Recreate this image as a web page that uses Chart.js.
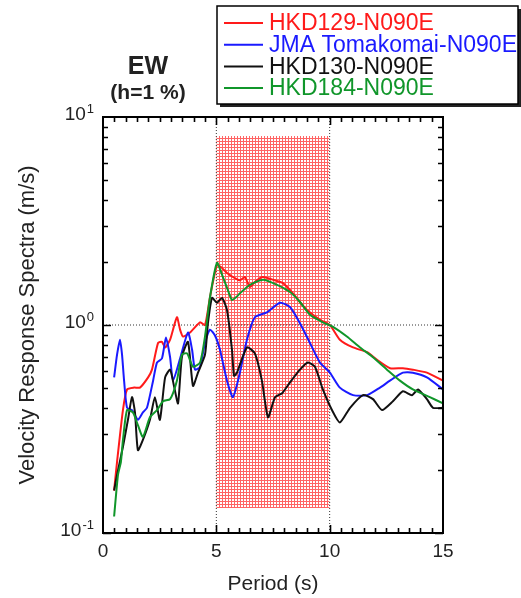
<!DOCTYPE html>
<html>
<head>
<meta charset="utf-8">
<script src="https://cdn.jsdelivr.net/npm/chart.js@4.4.1/dist/chart.umd.min.js"></script>
<style>
  html, body { margin: 0; padding: 0; background: #fff; }
</style>
</head>
<body>
<canvas id="spectraChart" width="521" height="598"></canvas>
<script>
// values (period in s, velocity in m/s)
const hkd129Period = [0.49, 0.62, 0.88, 1.06, 1.37, 1.63, 1.99, 2.16, 2.43, 2.60, 2.74, 2.96, 3.26, 3.40, 3.53, 3.84, 4.28, 4.50, 4.72, 5.03, 5.25, 5.47, 5.82, 6.04, 6.26, 6.48, 6.70, 6.93, 7.06, 7.50, 7.94, 8.38, 8.69, 9.00, 9.57, 10.01, 10.45, 11.03, 11.65, 12.09, 12.66, 13.23, 13.67, 14.29, 15.0];
const hkd129Vel = [0.16, 0.22, 0.39, 0.49, 0.50, 0.50, 0.56, 0.61, 0.82, 0.83, 0.78, 0.85, 1.09, 0.95, 0.88, 0.92, 1.03, 1.00, 1.36, 1.94, 1.88, 1.78, 1.68, 1.64, 1.70, 1.52, 1.61, 1.68, 1.70, 1.65, 1.59, 1.42, 1.29, 1.18, 1.06, 1.00, 0.85, 0.78, 0.74, 0.68, 0.62, 0.62, 0.61, 0.59, 0.54];

const jmaPeriod = [0.49, 0.62, 0.75, 0.84, 0.93, 1.06, 1.28, 1.54, 1.76, 1.94, 2.21, 2.38, 2.60, 2.78, 2.96, 3.09, 3.40, 3.75, 3.93, 4.06, 4.28, 4.50, 4.72, 4.94, 5.16, 5.47, 5.73, 6.04, 6.35, 6.70, 7.23, 7.81, 8.25, 8.69, 9.13, 9.57, 10.01, 10.45, 11.03, 11.65, 12.22, 12.66, 13.23, 13.67, 14.29, 15.0];
const jmaVel = [0.56, 0.72, 0.85, 0.72, 0.54, 0.40, 0.39, 0.35, 0.38, 0.40, 0.54, 0.66, 0.69, 0.87, 0.70, 0.54, 0.69, 0.92, 0.76, 0.61, 0.63, 0.82, 0.95, 0.89, 0.76, 0.54, 0.45, 0.59, 0.85, 1.09, 1.15, 1.28, 1.22, 1.02, 0.82, 0.66, 0.59, 0.50, 0.46, 0.46, 0.50, 0.54, 0.59, 0.59, 0.56, 0.49];

const hkd130Period = [0.49, 0.62, 0.88, 1.10, 1.28, 1.41, 1.54, 1.76, 2.07, 2.29, 2.51, 2.74, 2.96, 3.13, 3.31, 3.48, 3.75, 3.97, 4.19, 4.50, 4.63, 4.81, 5.03, 5.25, 5.47, 5.69, 5.78, 5.91, 6.35, 6.70, 7.01, 7.28, 7.59, 7.90, 8.25, 8.69, 9.04, 9.35, 9.70, 10.10, 10.45, 10.90, 11.47, 11.91, 12.31, 12.79, 13.23, 13.63, 13.90, 14.29, 14.56, 15.0];
const hkd130Vel = [0.16, 0.19, 0.26, 0.35, 0.45, 0.38, 0.25, 0.28, 0.35, 0.45, 0.35, 0.56, 0.61, 0.51, 0.42, 0.70, 0.83, 0.51, 0.59, 0.72, 1.02, 1.35, 1.28, 1.35, 1.18, 0.76, 0.57, 0.59, 0.78, 0.73, 0.54, 0.36, 0.45, 0.47, 0.53, 0.61, 0.66, 0.63, 0.49, 0.39, 0.34, 0.40, 0.46, 0.44, 0.39, 0.43, 0.48, 0.46, 0.49, 0.44, 0.40, 0.40];

const hkd184Period = [0.49, 0.66, 0.79, 0.88, 1.06, 1.32, 1.54, 1.76, 2.07, 2.38, 2.65, 2.96, 3.26, 3.48, 3.71, 3.97, 4.28, 4.50, 4.72, 5.03, 5.29, 5.51, 5.69, 5.87, 6.04, 6.48, 7.06, 7.68, 8.25, 8.69, 9.13, 9.70, 10.15, 10.76, 11.34, 11.91, 12.53, 13.10, 13.67, 14.42, 15.0];
const hkd184Vel = [0.12, 0.19, 0.22, 0.28, 0.39, 0.38, 0.33, 0.29, 0.36, 0.39, 0.43, 0.44, 0.54, 0.72, 0.73, 0.63, 0.66, 0.88, 1.36, 1.99, 1.70, 1.47, 1.32, 1.36, 1.42, 1.56, 1.65, 1.56, 1.44, 1.29, 1.12, 1.03, 0.98, 0.88, 0.78, 0.70, 0.61, 0.54, 0.49, 0.45, 0.42];

const seriesNames = ['HKD129-N090E', 'JMA Tomakomai-N090E', 'HKD130-N090E', 'HKD184-N090E'];
const seriesColors = ['#ff1a1a', '#1a1aff', '#111111', '#10962a'];

// shaded band and reference lines
const bandPeriods = [5, 10];
const bandTop = 8.1;
const bandBottom = 0.132;
const refPeriods = [5, 10];
const refLevel = 1;

// axes
const xRange = [0, 15];
const yRange = [0.1, 10];
const xMajorTicks = [0, 5, 10, 15];
const yDecades = [0.1, 1, 10];

const FONT = '"Liberation Sans", Arial, Helvetica, sans-serif';
const TEXT = '#222';
Chart.defaults.font.family = FONT;
Chart.defaults.color = TEXT;

const canvas = document.getElementById('spectraChart');
const ctx = canvas.getContext('2d');

// dotted red pattern for the 5-10 s band
const tile = document.createElement('canvas');
tile.width = 3; tile.height = 3;
const tctx = tile.getContext('2d');
tctx.fillStyle = '#ffffff';
tctx.fillRect(0, 0, 3, 3);
tctx.fillStyle = '#ff6464';
tctx.fillRect(0, 0, 3, 1);
tctx.fillRect(0, 0, 1, 3);
const bandPattern = ctx.createPattern(tile, 'repeat');

const toPoints = (xs, ys) => xs.map((x, i) => ({ x: x, y: ys[i] }));

const curve = (idx, xs, ys, order) => ({
    label: seriesNames[idx],
    data: toPoints(xs, ys),
    borderColor: seriesColors[idx],
    borderWidth: 2,
    pointRadius: 0,
    fill: false,
    tension: 0.2,
    order: order
});

const dotted = (pts) => ({
    data: pts,
    borderColor: '#333',
    borderWidth: 1,
    borderDash: [1, 2],
    pointRadius: 0,
    fill: false,
    order: 6
});

const datasets = [
    {
        data: bandPeriods.map(p => ({ x: p, y: bandTop })),
        borderColor: 'rgba(0,0,0,0)',
        backgroundColor: bandPattern,
        pointRadius: 0,
        fill: '+1',
        order: 10
    },
    {
        data: bandPeriods.map(p => ({ x: p, y: bandBottom })),
        borderColor: 'rgba(0,0,0,0)',
        pointRadius: 0,
        fill: false,
        order: 11
    },
    dotted(refPeriods.slice(0, 1).flatMap(p => [{ x: p, y: yRange[0] }, { x: p, y: yRange[1] }])),
    dotted(refPeriods.slice(1, 2).flatMap(p => [{ x: p, y: yRange[0] }, { x: p, y: yRange[1] }])),
    dotted(xRange.map(x => ({ x: x, y: refLevel }))),
    curve(0, hkd129Period, hkd129Vel, 4),
    curve(1, jmaPeriod, jmaVel, 3),
    curve(2, hkd130Period, hkd130Vel, 2),
    curve(3, hkd184Period, hkd184Vel, 1)
];

// frame, inward ticks, y labels with exponents, title and legend box
const decorPlugin = {
    id: 'decor',
    afterDraw(chart) {
        const c = chart.ctx;
        const a = chart.chartArea;
        const xs = chart.scales.x;
        const ys = chart.scales.y;
        c.save();

        c.strokeStyle = '#000';
        c.lineWidth = 2;
        c.strokeRect(a.left, a.top, a.right - a.left, a.bottom - a.top);

        c.lineWidth = 1.6;
        c.beginPath();
        for (let v = 0.5; v < xRange[1]; v += 0.5) {
            const px = Math.round(xs.getPixelForValue(v)) + 0.5;
            const len = (v % 5 === 0) ? 8 : 5;
            c.moveTo(px, a.bottom); c.lineTo(px, a.bottom - len);
            c.moveTo(px, a.top); c.lineTo(px, a.top + len);
        }
        for (let d = 0; d < yDecades.length - 1; d++) {
            for (let m = 1; m <= 9; m++) {
                const v = yDecades[d] * m;
                const py = Math.round(ys.getPixelForValue(v)) + 0.5;
                const len = m === 1 ? 8 : 5;
                c.moveTo(a.left, py); c.lineTo(a.left + len, py);
                c.moveTo(a.right, py); c.lineTo(a.right - len, py);
            }
        }
        c.stroke();

        // y tick labels 10^n
        c.fillStyle = TEXT;
        c.textBaseline = 'middle';
        yDecades.forEach(v => {
            const py = ys.getPixelForValue(v);
            const exp = String(Math.round(Math.log10(v)));
            c.font = '13px ' + FONT;
            const ew = c.measureText(exp).width;
            const right = a.left - 9;
            c.textAlign = 'left';
            c.fillText(exp, right - ew, py - 8);
            c.font = '19px ' + FONT;
            c.textAlign = 'right';
            c.fillText('10', right - ew - 1, py - 2);
        });

        // title
        c.textAlign = 'center';
        c.font = 'bold 25px ' + FONT;
        c.fillText('EW', 148, 67);
        c.font = 'bold 21px ' + FONT;
        c.fillText('(h=1 %)', 148, 93);

        // legend box with shadow
        const lx = 217, ly = 6, lw = 301, lh = 98;
        c.fillStyle = '#222';
        c.fillRect(lx + 3, ly + 3, lw, lh);
        c.fillStyle = '#fff';
        c.fillRect(lx, ly, lw, lh);
        c.strokeStyle = '#000';
        c.lineWidth = 1.5;
        c.strokeRect(lx, ly, lw, lh);
        c.font = '23px ' + FONT;
        c.textAlign = 'left';
        seriesNames.forEach((name, i) => {
            const y = 23 + i * 21.7;
            c.strokeStyle = seriesColors[i];
            c.lineWidth = 2;
            c.beginPath();
            c.moveTo(224, y); c.lineTo(263, y);
            c.stroke();
            c.fillStyle = seriesColors[i];
            c.fillText(name, 269, y + 1);
        });
        c.restore();
    }
};

new Chart(canvas, {
    type: 'line',
    data: { datasets: datasets },
    options: {
        responsive: false,
        animation: false,
        layout: { padding: { top: 117, right: 78, left: 0, bottom: 0 } },
        plugins: {
            legend: { display: false },
            tooltip: { enabled: false }
        },
        scales: {
            x: {
                type: 'linear',
                min: xRange[0],
                max: xRange[1],
                afterBuildTicks: s => { s.ticks = xMajorTicks.map(v => ({ value: v })); },
                afterFit: s => { s.height = 65; },
                ticks: { color: TEXT, font: { size: 19 }, padding: 7, maxRotation: 0 },
                grid: { display: false, drawTicks: false },
                border: { display: false },
                title: { display: true, text: 'Period (s)', color: TEXT, font: { size: 21 }, padding: { top: 0, bottom: 1 } }
            },
            y: {
                type: 'logarithmic',
                min: yRange[0],
                max: yRange[1],
                afterFit: s => { s.width = 103; },
                ticks: { display: false },
                grid: { display: false, drawTicks: false },
                border: { display: false },
                title: { display: true, text: 'Velocity Response Spectra (m/s)', color: TEXT, font: { size: 22 }, padding: { top: 15, bottom: 0 } }
            }
        }
    },
    plugins: [decorPlugin]
});
</script>
</body>
</html>
